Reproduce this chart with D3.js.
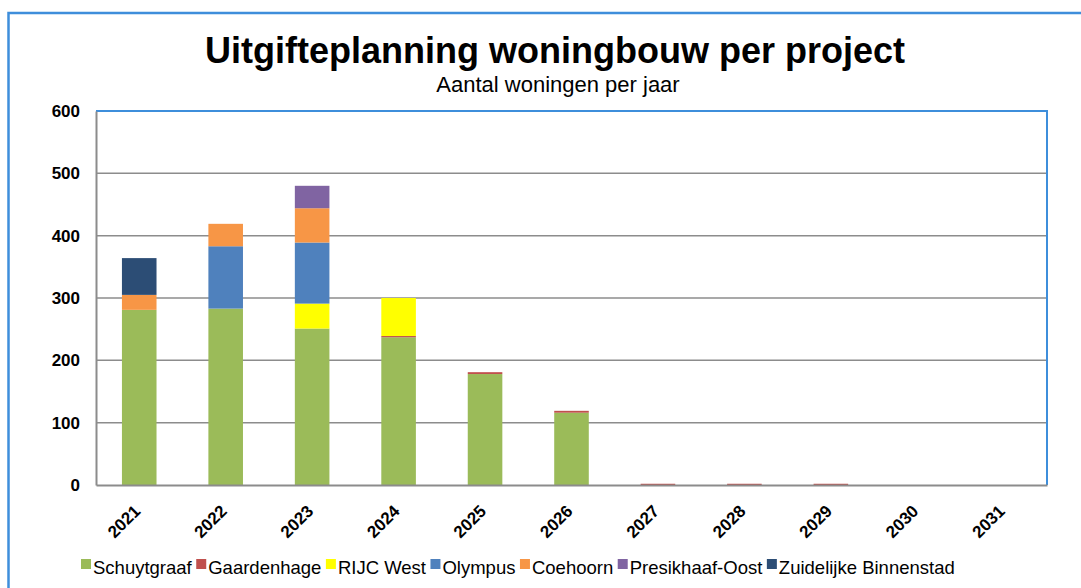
<!DOCTYPE html>
<html>
<head>
<meta charset="utf-8">
<script src="https://cdn.jsdelivr.net/npm/d3@7"></script>
<style>
  body { margin: 0; background: #fff; }
  svg { display: block; font-family: "Liberation Sans", Arial, sans-serif; }
</style>
</head>
<body>
<div id="chart"></div>
<script>
var years = ["2021", "2022", "2023", "2024", "2025", "2026", "2027", "2028", "2029", "2030", "2031"];
var projects = ["Schuytgraaf", "Gaardenhage", "RIJC West", "Olympus", "Coehoorn", "Presikhaaf-Oost", "Zuidelijke Binnenstad"];
var colors = ["#9BBB59", "#C0504D", "#FFFF00", "#4F81BD", "#F79646", "#8064A2", "#2C4D75"];

// values per project, one per year
var schuytgraaf = [281, 283, 251, 237, 178, 116, 0, 0, 0, 0, 0];
var gaardenhage = [0, 0, 0, 2, 3, 3, 2, 2, 2, 0, 0];
var rijcWest    = [0, 0, 40, 61, 0, 0, 0, 0, 0, 0, 0];
var olympus     = [0, 100, 98, 0, 0, 0, 0, 0, 0, 0, 0];
var coehoorn    = [24, 36, 55, 0, 0, 0, 0, 0, 0, 0, 0];
var presikhaaf  = [0, 0, 36, 0, 0, 0, 0, 0, 0, 0, 0];
var zuidelijke  = [59, 0, 0, 0, 0, 0, 0, 0, 0, 0, 0];
var yTicks = [0, 100, 200, 300, 400, 500, 600];

var series = [schuytgraaf, gaardenhage, rijcWest, olympus, coehoorn, presikhaaf, zuidelijke];

var W = 1081, H = 588;
var margin = { top: 111, right: 34, bottom: 103, left: 96 },
    width = W - margin.left - margin.right,
    height = H - margin.top - margin.bottom;

// table for the stack
var table = years.map(function (yr, i) {
  var row = { year: yr };
  projects.forEach(function (p, j) { row[p] = series[j][i]; });
  return row;
});

var stacked = d3.stack().keys(projects)(table);

var x = d3.scaleBand()
  .domain(years)
  .range([0, width])
  .paddingInner(0.6)
  .paddingOuter(0.3);

var y = d3.scaleLinear()
  .domain([0, 600])
  .range([height, 0]);

var svg = d3.select("#chart").append("svg")
  .attr("width", W)
  .attr("height", H);

// outer chart frame
svg.append("rect")
  .attr("x", 8.5).attr("y", 13)
  .attr("width", W + 20).attr("height", H + 20)
  .attr("fill", "none")
  .attr("stroke", "#3E8EDB")
  .attr("stroke-width", 2.5);

// titles
svg.append("text")
  .attr("x", 555).attr("y", 63)
  .attr("text-anchor", "middle")
  .style("font-size", "36px")
  .style("font-weight", "bold")
  .text("Uitgifteplanning woningbouw per project");

svg.append("text")
  .attr("x", 558).attr("y", 92)
  .attr("text-anchor", "middle")
  .style("font-size", "22px")
  .text("Aantal woningen per jaar");

var g = svg.append("g")
  .attr("transform", "translate(" + margin.left + "," + margin.top + ")");

// gridlines
g.append("g")
  .selectAll("line")
  .data(yTicks.filter(function (d) { return d > 0 && d < 600; }))
  .enter().append("line")
  .attr("x1", 0).attr("x2", width)
  .attr("y1", function (d) { return y(d); })
  .attr("y2", function (d) { return y(d); })
  .attr("stroke", "#8C8C8C")
  .attr("stroke-width", 1.5);

// plot area border: blue top and right
g.append("path")
  .attr("d", "M0,0H" + width + "V" + height)
  .attr("fill", "none")
  .attr("stroke", "#3E8EDB")
  .attr("stroke-width", 2);

// bars
g.selectAll("g.layer")
  .data(stacked)
  .enter().append("g")
  .attr("class", "layer")
  .attr("fill", function (d, i) { return colors[i]; })
  .selectAll("rect")
  .data(function (d) { return d; })
  .enter().append("rect")
  .attr("x", function (d) { return x(d.data.year); })
  .attr("width", x.bandwidth())
  .attr("y", function (d) { return y(d[1]); })
  .attr("height", function (d) { return y(d[0]) - y(d[1]); });

// axes
var yAxis = d3.axisLeft(y).tickValues(yTicks).tickSize(0).tickPadding(16);
var yG = g.append("g").call(yAxis);
yG.select(".domain").attr("stroke", "#8C8C8C").attr("stroke-width", 2);
yG.selectAll("text")
  .style("font-family", "Liberation Sans, Arial, sans-serif")
  .style("font-size", "17px")
  .style("font-weight", "bold")
  .attr("fill", "#000");

var xAxis = d3.axisBottom(x).tickSize(0).tickPadding(0);
var xG = g.append("g")
  .attr("transform", "translate(0," + height + ")")
  .call(xAxis);
xG.select(".domain").attr("stroke", "#8C8C8C").attr("stroke-width", 2);
xG.selectAll("text")
  .style("font-family", "Liberation Sans, Arial, sans-serif")
  .style("font-size", "17px")
  .style("font-weight", "bold")
  .attr("fill", "#000")
  .attr("text-anchor", "end")
  .attr("dy", "0.35em")
  .attr("y", 0)
  .attr("transform", "translate(-2,23) rotate(-45)");

// legend
var legend = svg.append("g")
  .attr("transform", "translate(81,568)");
var lx = 0;
projects.forEach(function (p, i) {
  var item = legend.append("g").attr("transform", "translate(" + lx + ",0)");
  item.append("rect")
    .attr("x", 0).attr("y", -9)
    .attr("width", 10).attr("height", 10)
    .attr("fill", colors[i]);
  var t = item.append("text")
    .attr("x", 12).attr("y", 0)
    .attr("dy", "0.3em")
    .style("font-size", "18.5px")
    .text(p);
  lx += 12 + t.node().getComputedTextLength() + 4.5;
});
</script>
</body>
</html>
